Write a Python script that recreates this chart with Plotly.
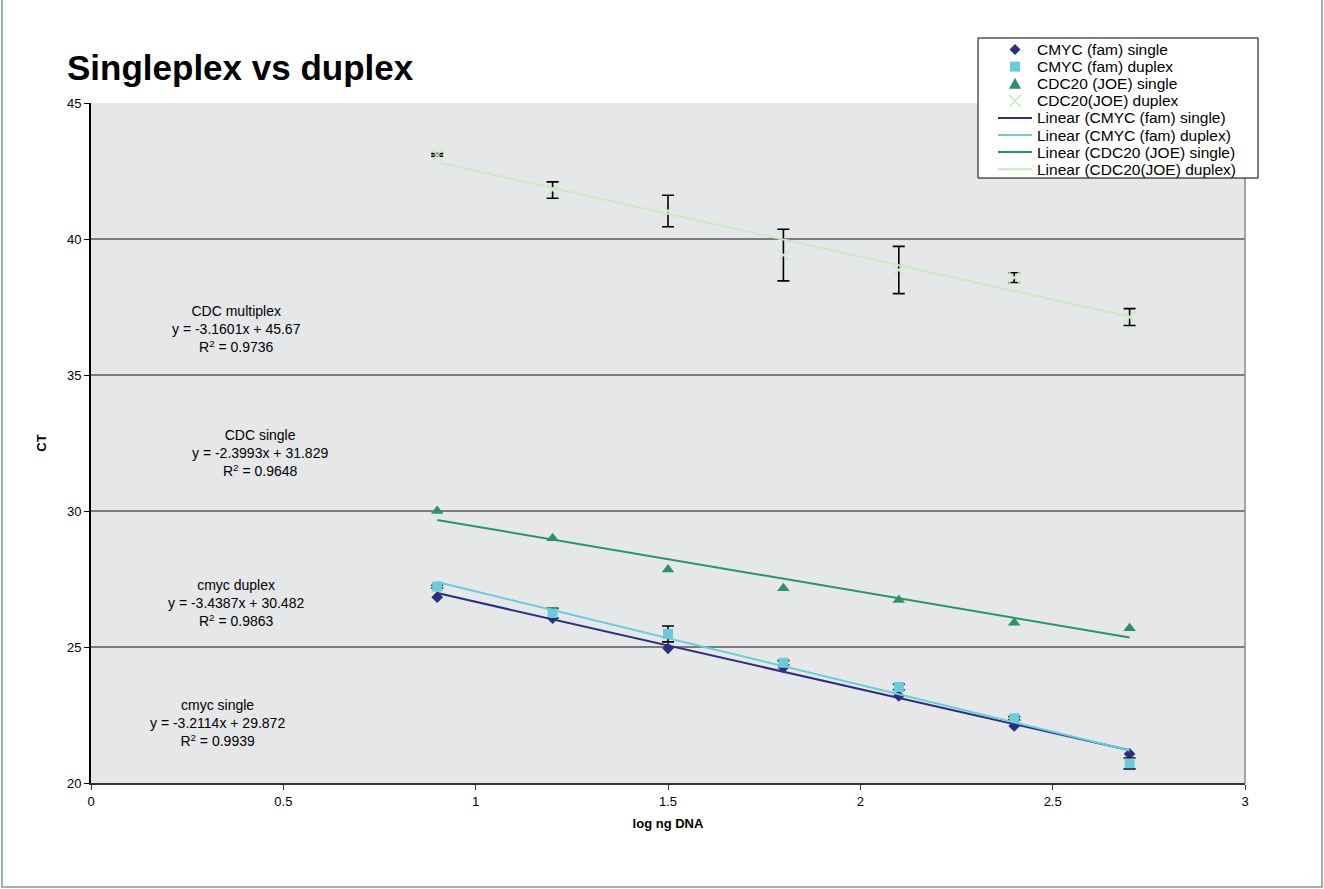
import plotly.graph_objects as go

# log ng DNA input amounts
log_dna = [0.9, 1.2, 1.5, 1.8, 2.1, 2.4, 2.7]

# CT values per assay
cmyc_single = [26.83, 26.06, 24.95, 24.25, 23.20, 22.10, 21.07]
cmyc_duplex = [27.22, 26.24, 25.48, 24.42, 23.53, 22.38, 20.72]
cdc_single = [30.00, 29.00, 27.85, 27.16, 26.73, 25.89, 25.69]
cdc_duplex = [43.09, 41.80, 41.03, 39.41, 38.86, 38.58, 37.13]

# standard deviations of the duplex runs
cmyc_duplex_err = [0.05, 0.18, 0.29, 0.08, 0.10, 0.06, 0.20]
cdc_duplex_err = [0.05, 0.30, 0.58, 0.95, 0.87, 0.18, 0.31]

series_names = ["CMYC (fam) single", "CMYC (fam) duplex",
                "CDC20 (JOE) single", "CDC20(JOE) duplex"]

# linear trendline fits (slope, intercept, R^2) per series
fit_slopes = [-3.2114, -3.4387, -2.3993, -3.1601]
fit_intercepts = [29.872, 30.482, 31.829, 45.67]
fit_r2 = [0.9939, 0.9863, 0.9648, 0.9736]
fit_labels = ["cmyc single", "cmyc duplex", "CDC single", "CDC multiplex"]

# where each fit equation is printed (data coordinates)
label_x = [0.328, 0.378, 0.439, 0.377]
label_y = [22.21, 26.62, 32.13, 36.69]

values = [cmyc_single, cmyc_duplex, cdc_single, cdc_duplex]
errors = [None, cmyc_duplex_err, None, cdc_duplex_err]
colors = ["#2b2f7e", "#6ccbdb", "#2a9463", "#cde9c4"]
symbols = ["diamond", "square", "triangle-up", "x-thin"]
sizes = [9, 10, 11, 11]

FONT = "Liberation Sans, Arial, Helvetica, sans-serif"

# page geometry of the plotting area (pixels)
W, H = 1324, 889
L, R, T, B = 91, 1245, 103, 783


def pxx(x):
    """page x pixel -> paper fraction"""
    return (x - L) / (R - L)


def pxy(y):
    """page y pixel -> paper fraction"""
    return (B - y) / (B - T)


fig = go.Figure()

for name, ys, err, col, sym, sz in zip(series_names, values, errors, colors, symbols, sizes):
    marker = dict(color=col, symbol=sym, size=sz)
    if sym == "x-thin":
        marker["line"] = dict(color=col, width=1.6)
    tr = dict(x=log_dna, y=ys, mode="markers", name=name, marker=marker)
    if err is not None:
        tr["error_y"] = dict(type="data", array=err, visible=True,
                             color="black", thickness=1.6, width=6)
    fig.add_trace(go.Scatter(**tr))

x0, x1 = log_dna[0], log_dna[-1]
for name, m, b, col in zip(series_names, fit_slopes, fit_intercepts, colors):
    fig.add_trace(go.Scatter(
        x=[x0, x1], y=[m * x0 + b, m * x1 + b], mode="lines",
        name="Linear (" + name + ")", line=dict(color=col, width=2)))

for lab, m, b, r2, lx, ly in zip(fit_labels, fit_slopes, fit_intercepts, fit_r2, label_x, label_y):
    sign = "+" if b >= 0 else "-"
    txt = (f"{lab}<br>y = {m:.4f}x {sign} {abs(b):g}<br>"
           f"R<sup>2</sup> = {r2:.4f}")
    fig.add_annotation(x=lx, y=ly, xref="x", yref="y", text=txt, showarrow=False,
                       font=dict(family=FONT, size=14, color="black"), align="center")

shapes = []
# right edge of the plotting area
shapes.append(dict(type="line", xref="paper", yref="paper", x0=1, x1=1, y0=0, y1=1,
                   line=dict(color="#8a8a8a", width=1.5), layer="above"))
# outer frame of the chart
shapes.append(dict(type="rect", xref="paper", yref="paper",
                   x0=pxx(2), x1=pxx(W - 2), y0=pxy(H - 2), y1=pxy(-3),
                   line=dict(color="#7b9b9b", width=1.5), fillcolor="rgba(0,0,0,0)"))

# ---- legend box, drawn by hand so its rows stay compact ----
leg_left, leg_top, leg_right, leg_bottom = 978, 38, 1258, 178
row_y0, row_step = 49.5, 17.1
sym_cx, line_x0, line_x1, text_x = 1015, 998, 1032, 1035

shapes.append(dict(type="rect", xref="paper", yref="paper",
                   x0=pxx(leg_left), x1=pxx(leg_right), y0=pxy(leg_bottom), y1=pxy(leg_top),
                   line=dict(color="black", width=1), fillcolor="white", layer="above"))


def poly(points):
    return "M " + " L ".join(f"{pxx(a)},{pxy(b)}" for a, b in points) + " Z"


legend_rows = list(series_names) + ["Linear (" + n + ")" for n in series_names]
for i, text in enumerate(legend_rows):
    cy = row_y0 + i * row_step
    fig.add_annotation(x=pxx(text_x), y=pxy(cy), xref="paper", yref="paper",
                       text=text, showarrow=False, xanchor="left", yanchor="middle",
                       font=dict(family=FONT, size=15.5, color="black"))
    if i >= 4:
        col = colors[i - 4]
        shapes.append(dict(type="line", xref="paper", yref="paper",
                           x0=pxx(line_x0), x1=pxx(line_x1), y0=pxy(cy), y1=pxy(cy),
                           line=dict(color=col, width=2), layer="above"))
        continue
    col = colors[i]
    h = 5.5
    if symbols[i] == "diamond":
        path = poly([(sym_cx, cy - h), (sym_cx + h, cy), (sym_cx, cy + h), (sym_cx - h, cy)])
        shapes.append(dict(type="path", xref="paper", yref="paper", path=path,
                           fillcolor=col, line=dict(width=0), layer="above"))
    elif symbols[i] == "square":
        shapes.append(dict(type="rect", xref="paper", yref="paper",
                           x0=pxx(sym_cx - 5), x1=pxx(sym_cx + 5),
                           y0=pxy(cy + 5), y1=pxy(cy - 5),
                           fillcolor=col, line=dict(width=0), layer="above"))
    elif symbols[i] == "triangle-up":
        path = poly([(sym_cx, cy - 6), (sym_cx + 6, cy + 5), (sym_cx - 6, cy + 5)])
        shapes.append(dict(type="path", xref="paper", yref="paper", path=path,
                           fillcolor=col, line=dict(width=0), layer="above"))
    else:
        for dx in (-1, 1):
            shapes.append(dict(type="line", xref="paper", yref="paper",
                               x0=pxx(sym_cx - 6 * dx), x1=pxx(sym_cx + 6 * dx),
                               y0=pxy(cy - 6), y1=pxy(cy + 6),
                               line=dict(color=col, width=1.6), layer="above"))

fig.update_layout(
    width=W, height=H,
    margin=dict(l=L, r=W - R, t=T, b=H - B),
    paper_bgcolor="white", plot_bgcolor="#e6e7e9",
    font=dict(family=FONT, color="black"),
    title=dict(text="<b>Singleplex vs duplex</b>", x=67 / W, xanchor="left",
               xref="container", y=1 - 68 / H, yanchor="middle", yref="container",
               font=dict(family=FONT, size=35, color="black")),
    xaxis=dict(range=[0, 3], dtick=0.5, tick0=0, showgrid=False, zeroline=False,
               showline=True, linecolor="#333333", linewidth=2,
               ticks="outside", ticklen=5, tickcolor="#333333",
               tickfont=dict(size=13),
               title=dict(text="<b>log ng DNA</b>", font=dict(size=13), standoff=11)),
    yaxis=dict(range=[20, 45], dtick=5, tick0=20, showgrid=True, gridcolor="#7c7c7c",
               gridwidth=1.6, zeroline=False, showline=True, linecolor="black", linewidth=2,
               ticks="outside", ticklen=5, tickcolor="black",
               tickfont=dict(size=13),
               title=dict(text="<b>CT</b>", font=dict(size=13), standoff=17)),
    showlegend=False,
    shapes=shapes,
)

fig.write_html("out.html")
